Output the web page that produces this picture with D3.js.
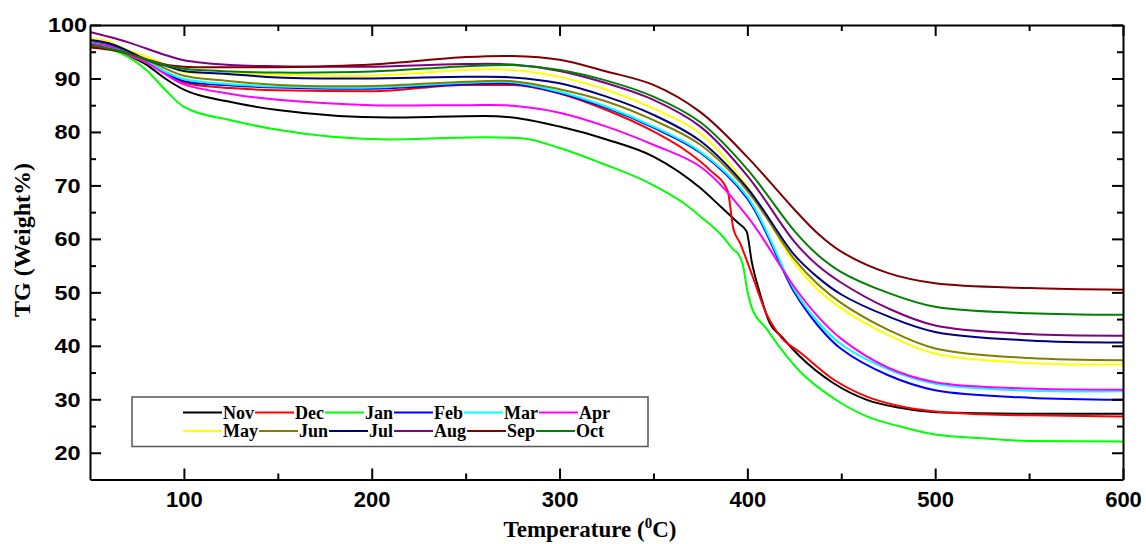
<!DOCTYPE html>
<html>
<head>
<meta charset="utf-8">
<script src="https://cdn.jsdelivr.net/npm/d3@7"></script>
<style>
  html, body { margin: 0; padding: 0; background: #fff; }
  svg { display: block; }
</style>
</head>
<body>
<svg id="chart" width="1146" height="544"></svg>
<script>
// ---------- data ----------
const months = ["Nov","Dec","Jan","Feb","Mar","Apr","May","Jun","Jul","Aug","Sep","Oct"];
const colors = ["#000000","#ff0000","#00ff00","#0000ff","#00ffff","#ff00ff","#ffff00","#808000","#000080","#800080","#800000","#008000"];

const xTicks = [100,200,300,400,500,600];
const yTicks = [20,30,40,50,60,70,80,90,100];

const temps = [50,60,70,80,90,100,125,150,200,250,275,300,325,350,375,400,425,437.5,450,475,500,550,600];

const tempsNov = [50,60,70,80,90,100,125,150,210,260,275,300,325,350,375,385,395,399.6,402.3,406.7,412,418,428,445.9,463.6,481.4,500,550,600];
const valuesNov = [96.9,96.3,94.4,92.6,90.0,87.9,85.6,84.1,82.7,83.0,82.7,81.0,78.6,75.4,69.5,66.3,63.0,61.4,55.8,49.8,44.2,41.8,38.0,33.0,29.9,28.4,27.6,27.3,27.3];

const tempsDec = [50,60,70,80,90,100,125,150,200,250,275,300,325,350,367.7,380,389.5,392.5,396,403.5,410,418,428,445.9,463.6,481.4,500,525,550,600];
const valuesDec = [96.0,95.5,94.4,93.0,91.0,89.2,88.2,87.8,87.6,88.8,88.8,87.2,84.1,80.1,76.4,72.9,69.0,62.0,59.3,52.3,46.1,41.6,38.8,33.7,30.5,28.7,27.7,27.2,27.0,26.8];

const tempsJan = [50,60,70,80,90,100,125,150,210,260,280,300,322,348,366,375,387,392.5,395.5,397.5,400,402.5,410,417.5,428,445.9,463.6,481.4,500,525,550,600];
const valuesJan = [96.4,95.6,94.1,91.6,87.9,84.7,82.2,80.4,78.6,79.0,78.8,77.0,74.2,70.4,66.7,64.2,60.4,58.0,57.0,55.3,50.3,47.0,43.3,39.6,35.2,30.2,26.8,24.9,23.4,22.7,22.2,22.1];

const valuesFeb = [96.9,96.3,94.8,93.2,91.2,89.5,88.7,88.3,88.1,88.9,89.0,87.3,84.5,80.8,76.1,67.5,50.0,43.8,39.4,34.5,31.7,30.3,29.9];
const valuesMar = [96.7,96.0,94.6,93.3,91.3,89.9,88.9,88.5,88.3,89.2,89.3,87.5,84.7,81.0,76.3,67.9,50.5,44.5,40.3,35.6,32.9,31.6,31.5];
const valuesApr = [96.5,96.0,94.5,93.0,90.8,88.9,87.1,86.0,85.0,85.0,84.9,83.6,81.0,77.6,73.5,64.2,51.0,45.5,41.3,35.9,33.2,32.0,31.8];
const valuesMay = [97.5,96.9,95.3,94.1,92.6,91.2,90.9,90.7,90.5,91.6,91.6,90.3,87.9,84.4,79.7,69.8,55.5,50.5,47.0,42.0,38.5,36.8,36.5];
const valuesJun = [97.0,96.5,95.0,93.5,91.9,90.5,89.5,88.8,88.6,89.4,89.5,88.0,85.7,82.2,77.6,69.0,56.2,51.5,48.0,43.0,39.5,37.7,37.3];
const valuesJul = [97.2,96.6,95.2,93.5,92.4,91.4,90.8,90.2,90.0,90.3,90.2,89.1,86.6,83.2,78.3,69.5,57.0,52.8,49.6,45.5,42.6,41.0,40.6];
const valuesAug = [98.7,97.8,96.8,95.6,94.4,93.4,92.5,92.3,92.2,92.7,92.6,91.4,89.1,86.0,81.0,71.8,59.5,55.0,51.8,47.0,43.8,42.2,41.9];
const valuesSep = [95.8,95.4,94.7,93.6,92.6,92.2,92.1,92.1,92.6,94.0,94.2,93.5,91.3,88.8,83.7,75.3,65.5,61.0,57.6,53.6,51.7,50.8,50.5];
const valuesOct = [96.3,95.6,94.7,93.5,92.5,91.8,91.3,91.1,91.3,92.3,92.5,91.6,89.6,86.6,81.8,73.0,61.5,57.0,53.8,49.9,47.3,46.1,45.8];

const seriesTemps = [tempsNov, tempsDec, tempsJan, temps, temps, temps, temps, temps, temps, temps, temps, temps];
const seriesValues = [valuesNov, valuesDec, valuesJan, valuesFeb, valuesMar, valuesApr, valuesMay, valuesJun, valuesJul, valuesAug, valuesSep, valuesOct];

// ---------- layout ----------
const svg = d3.select("#chart");
const L = 90, R = 1123, T = 25, B = 479.5;

const x = d3.scaleLinear().domain([50, 600]).range([L, R]);
const y = d3.scaleLinear().domain([15, 100]).range([B, T]);

svg.append("clipPath").attr("id", "clip")
  .append("rect").attr("x", L).attr("y", T).attr("width", R - L).attr("height", B - T);

const smoothLine = d3.line()
  .x(d => x(d[0])).y(d => y(d[1]))
  .curve(d3.curveCatmullRom.alpha(0.5));
const kinkLine = d3.line()
  .x(d => x(d[0])).y(d => y(d[1]))
  .curve(d3.curveMonotoneX);

const lines = svg.append("g").attr("clip-path", "url(#clip)");
months.forEach((m, i) => {
  const pts = seriesTemps[i].map((t, j) => [t, seriesValues[i][j]]);
  lines.append("path")
    .datum(pts)
    .attr("fill", "none")
    .attr("stroke", colors[i])
    .attr("stroke-width", 2)
    .attr("stroke-linejoin", "round")
    .attr("d", i < 3 ? kinkLine : smoothLine);
});

// ---------- axes ----------
const xMinor = d3.range(150, 600, 100);
const yMinor = d3.range(25, 100, 10);

function styleAxis(g) {
  g.select(".domain").attr("stroke", "#000").attr("stroke-width", 2);
  g.selectAll(".tick line").attr("stroke", "#000").attr("stroke-width", 2);
}
function minorStyle(g) {
  g.select(".domain").remove();
  g.selectAll("line").attr("stroke", "#000").attr("stroke-width", 2);
}

// bottom
const gB = svg.append("g").attr("transform", `translate(0,${B})`)
  .call(d3.axisBottom(x).tickValues(xTicks).tickSizeInner(-11).tickSizeOuter(0).tickPadding(12).tickFormat(d3.format("d")));
styleAxis(gB);
gB.selectAll("text").attr("font-family", "Liberation Sans, Arial, sans-serif").attr("font-weight", "bold").attr("font-size", 22).attr("fill", "#000");
svg.append("g").attr("transform", `translate(0,${B})`)
  .call(d3.axisBottom(x).tickValues(xMinor).tickSizeInner(-6).tickSizeOuter(0).tickFormat(""))
  .call(minorStyle);

// top
const gT = svg.append("g").attr("transform", `translate(0,${T})`)
  .call(d3.axisTop(x).tickValues(xTicks).tickSizeInner(-11).tickSizeOuter(0).tickFormat(""));
styleAxis(gT);
svg.append("g").attr("transform", `translate(0,${T})`)
  .call(d3.axisTop(x).tickValues(xMinor).tickSizeInner(-6).tickSizeOuter(0).tickFormat(""))
  .call(minorStyle);

// left
const yStretch = 1.12;
const gL = svg.append("g").attr("transform", `translate(${L},0)`)
  .call(d3.axisLeft(y).tickValues(yTicks).tickSizeInner(-11).tickSizeOuter(0).tickPadding(0).tickFormat(d3.format("d")));
styleAxis(gL);
gL.selectAll("text").attr("text-anchor", "middle").attr("x", -22.5 / yStretch)
  .attr("transform", `scale(${yStretch},1)`)
  .attr("font-family", "Liberation Sans, Arial, sans-serif").attr("font-weight", "bold").attr("font-size", 21).attr("fill", "#000");
svg.append("g").attr("transform", `translate(${L},0)`)
  .call(d3.axisLeft(y).tickValues(yMinor).tickSizeInner(-6).tickSizeOuter(0).tickFormat(""))
  .call(minorStyle);

// right
const gR = svg.append("g").attr("transform", `translate(${R},0)`)
  .call(d3.axisRight(y).tickValues(yTicks).tickSizeInner(-11).tickSizeOuter(0).tickFormat(""));
styleAxis(gR);
svg.append("g").attr("transform", `translate(${R},0)`)
  .call(d3.axisRight(y).tickValues(yMinor).tickSizeInner(-6).tickSizeOuter(0).tickFormat(""))
  .call(minorStyle);

// ---------- titles ----------
svg.append("text")
  .attr("transform", `translate(30,240) rotate(-90)`)
  .attr("text-anchor", "middle")
  .attr("font-family", "Liberation Serif, Times New Roman, serif")
  .attr("font-weight", "bold").attr("font-size", 24)
  .text("TG (Weight%)");

const xt = svg.append("text")
  .attr("x", 590).attr("y", 537)
  .attr("text-anchor", "middle")
  .attr("font-family", "Liberation Serif, Times New Roman, serif")
  .attr("font-weight", "bold").attr("font-size", 23);
xt.append("tspan").text("Temperature (");
xt.append("tspan").attr("font-size", 15).attr("dy", -9).text("0");
xt.append("tspan").attr("dy", 9).text("C)");

// ---------- legend ----------
const legend = svg.append("g");
legend.append("rect")
  .attr("x", 132).attr("y", 397).attr("width", 516).attr("height", 49.5)
  .attr("fill", "#fff").attr("stroke", "#555").attr("stroke-width", 1.5);

const rowY = [412.5, 431];
const perRow = 6;
[0, 1].forEach(r => {
  let cx = 183;
  for (let k = 0; k < perRow; k++) {
    const i = r * perRow + k;
    legend.append("line")
      .attr("x1", cx).attr("x2", cx + 39).attr("y1", rowY[r]).attr("y2", rowY[r])
      .attr("stroke", colors[i]).attr("stroke-width", 2);
    const t = legend.append("text")
      .attr("x", cx + 40).attr("y", rowY[r] + 6)
      .attr("font-family", "Liberation Serif, Times New Roman, serif")
      .attr("font-weight", "bold").attr("font-size", 18)
      .text(months[i]);
    cx = cx + 40 + t.node().getComputedTextLength() + 1;
  }
});
</script>
</body>
</html>
